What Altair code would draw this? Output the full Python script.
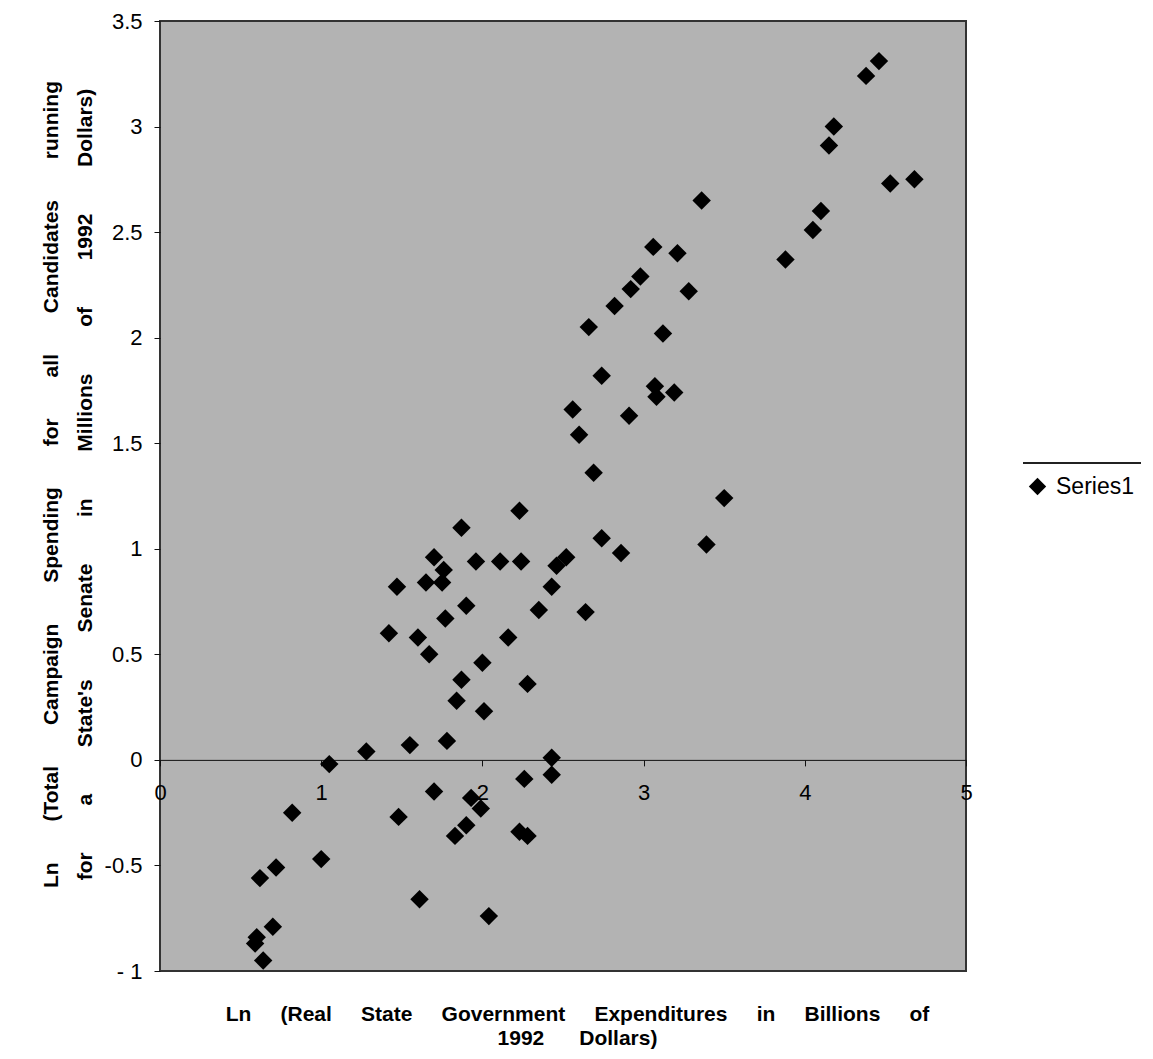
import altair as alt
import pandas as pd

# ---- data ----
series_name = "Series1"
x_vals = [4.46, 4.38, 4.18, 4.15, 4.68, 4.53, 4.10, 4.05, 3.88, 3.36,
          3.06, 3.21, 2.98, 2.92, 3.28, 2.82, 2.66, 3.12, 2.74, 3.07,
          3.08, 3.19, 2.56, 2.91, 2.60, 2.69, 3.50, 2.74, 3.39, 2.86,
          2.52, 2.46, 2.43, 2.35, 2.64, 2.23, 1.87, 1.70, 1.76, 1.96,
          2.11, 2.24, 1.47, 1.65, 1.75, 1.90, 1.77, 1.42, 1.60, 1.67,
          2.16, 2.00, 1.87, 2.28, 1.84, 2.01, 1.55, 1.78, 1.28, 1.05,
          2.43, 2.43, 2.26, 1.70, 1.93, 1.99, 0.82, 1.48, 1.90, 1.83,
          2.23, 2.28, 1.00, 0.72, 0.62, 1.61, 2.04, 0.70, 0.60, 0.59,
          0.64]
y_vals = [3.31, 3.24, 3.00, 2.91, 2.75, 2.73, 2.60, 2.51, 2.37, 2.65,
          2.43, 2.40, 2.29, 2.23, 2.22, 2.15, 2.05, 2.02, 1.82, 1.77,
          1.72, 1.74, 1.66, 1.63, 1.54, 1.36, 1.24, 1.05, 1.02, 0.98,
          0.96, 0.92, 0.82, 0.71, 0.70, 1.18, 1.10, 0.96, 0.90, 0.94,
          0.94, 0.94, 0.82, 0.84, 0.84, 0.73, 0.67, 0.60, 0.58, 0.50,
          0.58, 0.46, 0.38, 0.36, 0.28, 0.23, 0.07, 0.09, 0.04, -0.02,
          0.01, -0.07, -0.09, -0.15, -0.18, -0.23, -0.25, -0.27, -0.31, -0.36,
          -0.34, -0.36, -0.47, -0.51, -0.56, -0.66, -0.74, -0.79, -0.84, -0.87,
          -0.95]
x_ticks = [0, 1, 2, 3, 4, 5]
y_ticks = [-1, -0.5, 0, 0.5, 1, 1.5, 2, 2.5, 3, 3.5]
x_title = ["Ln (Real State Government Expenditures in Billions of", "1992 Dollars)"]
y_title = ["Ln (Total Campaign Spending for all Candidates running",
           "for a State's Senate in Millions of 1992 Dollars)"]

df = pd.DataFrame({"x": x_vals, "y": y_vals, "series": [series_name] * len(x_vals)})

NB = "\u00a0"
def spread(s, n):
    return s.replace(" ", NB * n)

W, H = 806, 950
X_DOM = [0, 5]
Y_DOM = [-1, 3.5]
zero_from_bottom = H * (0 - Y_DOM[0]) / (Y_DOM[1] - Y_DOM[0])
FONT = "Liberation Sans"

points = alt.Chart(df).mark_point(shape="diamond", filled=True, size=340, opacity=1).encode(
    x=alt.X("x:Q",
            scale=alt.Scale(domain=X_DOM, nice=False, zero=False),
            axis=alt.Axis(values=x_ticks, offset=-zero_from_bottom, grid=False,
                          domain=True, domainColor="#111111", domainWidth=1,
                          ticks=True, tickSize=6, tickColor="#111111",
                          labelPadding=17, labelFontSize=22, labelFont=FONT,
                          labelColor="black", labelFlush=False, labelOverlap=False,
                          title=[spread(x_title[0], 5), spread(x_title[1], 6)],
                          titleFont=FONT, titleFontSize=21, titleFontWeight="bold",
                          titleColor="black", titleX=417, titleY=244,
                          titleAlign="center", titleBaseline="top",
                          titleLineHeight=24)),
    y=alt.Y("y:Q",
            scale=alt.Scale(domain=Y_DOM, nice=False, zero=False),
            axis=alt.Axis(values=y_ticks, grid=False, domain=False,
                          ticks=True, tickSize=6, tickColor="#111111",
                          labelPadding=12, labelFontSize=22, labelFont=FONT,
                          labelColor="black", labelFlush=False, labelOverlap=False,
                          labelExpr="datum.value == -1 ? '- 1' : datum.value + ''",
                          title=[spread(y_title[0], 7), spread(y_title[1], 8)],
                          titleFont=FONT, titleFontSize=21, titleFontWeight="bold",
                          titleColor="black", titleAngle=270, titleX=-99, titleY=463,
                          titleAlign="center", titleBaseline="bottom",
                          titleLineHeight=34)),
    color=alt.Color("series:N", scale=alt.Scale(range=["black"]),
                    legend=alt.Legend(title=None, orient="none", legendX=866, legendY=454,
                                      symbolType="diamond", symbolSize=300,
                                      symbolFillColor="black", symbolStrokeWidth=0,
                                      labelFont=FONT, labelFontSize=23, labelColor="black",
                                      labelOffset=7, padding=0)),
)

legend_line = alt.Chart(df).mark_rule(color="#222222", strokeWidth=1.5).encode(
    x=alt.value(863), x2=alt.value(981), y=alt.value(442))

chart = alt.layer(points, legend_line).properties(
    width=W, height=H,
    autosize=alt.AutoSizeParams(type="none"),
    padding={"left": 152, "top": 13, "right": 179, "bottom": 80},
    background="white",
).configure_view(fill="#b3b3b3", stroke="#333333", strokeWidth=2)

chart.save("out.html", embed_options={"renderer": "svg", "actions": False})
